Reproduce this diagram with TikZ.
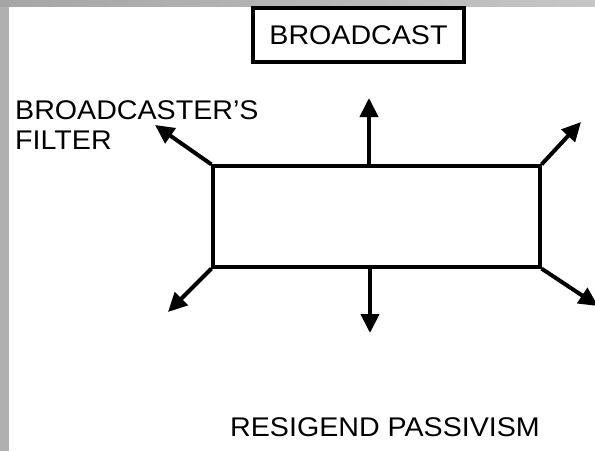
\documentclass[tikz,border=0pt]{standalone}
\usepackage{fontspec}
\setmainfont{Liberation Sans}[FakeStretch=1.06]
\usetikzlibrary{arrows.meta}
\begin{document}
\begin{tikzpicture}[x=1pt,y=1pt,
  lbl/.style={inner sep=0pt,font=\fontsize{27}{30}\selectfont},
  boxnode/.style={draw,line width=3.2pt,inner sep=0pt},
  flow/.style={line width=4pt,-{Triangle[length=19pt,width=18pt]}}]
\useasboundingbox (0,0) rectangle (595,451);
\fill[white] (0,0) rectangle (595,451);
% grey frame
\fill[gray!62] (0,0) rectangle (9,451);
\shade[left color=gray!70,right color=gray!45] (0,444) rectangle (595,451);
% central rectangle
\node[boxnode,minimum width=327pt,minimum height=101pt] (rect) at (376.5,234.5) {};
% labels
\node[boxnode,lbl,minimum width=211pt,minimum height=54pt] (bc) at (358.5,416) {BROADCAST};
\node[lbl,align=left,anchor=north west] (filt) at (15,351) {BROADCASTER’S\\FILTER};
\node[lbl,anchor=base west] (pas) at (230,15) {RESIGEND PASSIVISM};
% arrow end points
\coordinate (tm) at (369,353);
\coordinate (tl) at (155,326);
\coordinate (tr) at (581,329);
\coordinate (bl) at (168,139);
\coordinate (bm) at (370,118);
\coordinate (br) at (598,145);
\draw[flow] (rect.north -| tm) -- (tm);
\draw[flow] (rect.north west) -- (tl);
\draw[flow] (rect.north east) -- (tr);
\draw[flow] (rect.south west) -- (bl);
\draw[flow] (rect.south -| bm) -- (bm);
\draw[flow] (rect.south east) -- (br);
\end{tikzpicture}
\end{document}
